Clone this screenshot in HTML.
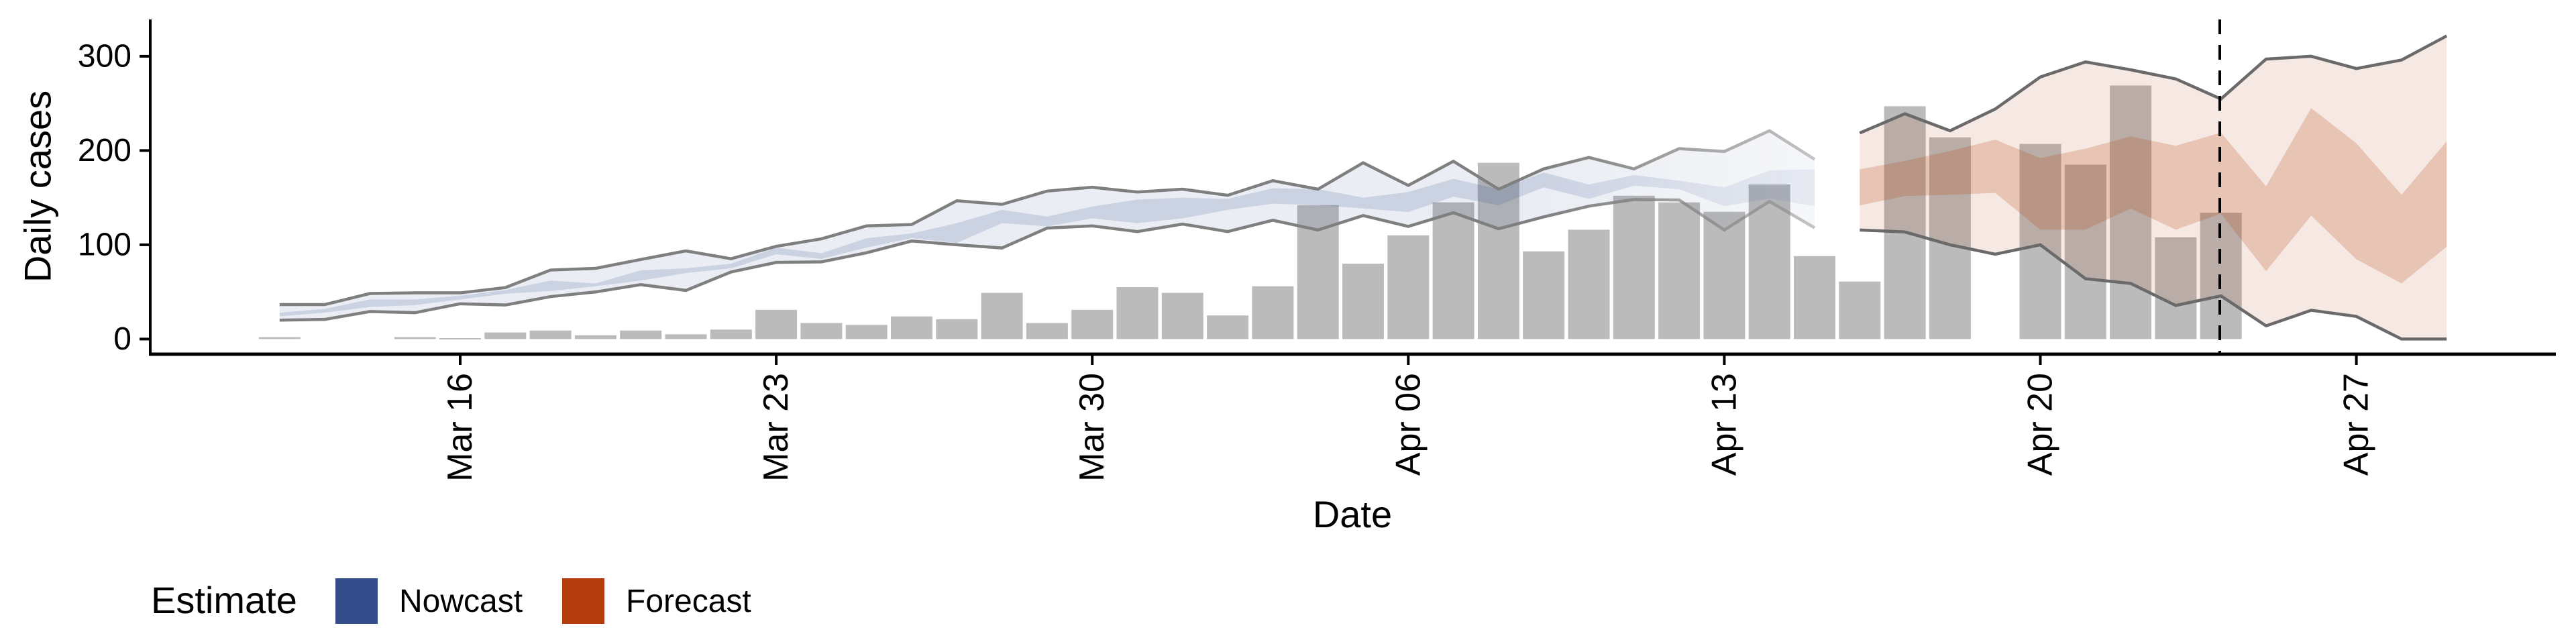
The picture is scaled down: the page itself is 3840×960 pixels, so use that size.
<!DOCTYPE html>
<html><head><meta charset="utf-8"><style>
html,body{margin:0;padding:0;background:#fff;width:3840px;height:960px;overflow:hidden}
svg{display:block;font-family:"Liberation Sans",sans-serif}
</style></head><body>
<svg id="chart" width="3840" height="960" viewBox="0 0 3840 960">
<defs>
<linearGradient id="fadeGrad" gradientUnits="userSpaceOnUse" x1="2300" y1="0" x2="2710" y2="0">
<stop offset="0" stop-color="#fff"/><stop offset="1" stop-color="#777"/></linearGradient>
<mask id="fadeMask" maskUnits="userSpaceOnUse" x="0" y="0" width="3840" height="960"><rect x="0" y="0" width="3840" height="960" fill="url(#fadeGrad)"/></mask>
</defs>
<g id="bars"></g>
<g id="nowcast" mask="url(#fadeMask)"></g>
<g id="forecast"></g>
<g id="axes"></g>
<line x1="3309" y1="29" x2="3309" y2="528" stroke="#000" stroke-width="4" stroke-dasharray="22,16"/>
<text x="56" y="278" font-size="56" text-anchor="middle" transform="rotate(-90 56 278)" dominant-baseline="central">Daily cases</text>
<text x="2016" y="786" font-size="56" text-anchor="middle">Date</text>
<g>
<text x="225" y="914" font-size="56">Estimate</text>
<rect x="500" y="862" width="63" height="68" fill="#344c89"/>
<text x="595" y="912" font-size="48">Nowcast</text>
<rect x="838" y="862" width="63" height="68" fill="#b33c0c"/>
<text x="933" y="912" font-size="48">Forecast</text>
</g>
</svg>
<script>
const barValues=[2,null,null,2,1,7,9,4,9,5,10,31,17,15,24,21,49,17,31,55,49,25,56,142,80,110,145,187,93,116,152,145,135,164,88,61,247,214,null,207,185,269,108,134];
const nowUpper=[36.6,36.6,48.3,49,49,54.6,73.2,75,84.4,93.5,85.2,98.4,106.3,120,121.5,146.7,142.9,157,161,156,159,152.5,168,159,187,163,188.6,159,180.5,192.7,180.5,202,199,221,190.7];
const nowLower=[20,20.8,29.2,28,37.4,36.1,45,50,57.7,51.6,71.2,81.3,81.9,91.5,104,100,96.6,117.7,120,114,122,114,126,115.7,131,119.5,134,117,129.6,141,148,147.5,115.7,146,118];
const nowInnerUp=[28,32,42,42,46,52,62,59,73,75,80,97,91,107,112,123,137,130,140.6,148,150,148.7,160,159,150,156,170,159,176.7,164,174,168,161,179,180];
const nowInnerLo=[24,28,34,36,42,48,51,56,62,70,75,90,85,97,107,102,123,119.5,128,123,128,137,143.6,142,138.5,134.7,151,142,161,148.7,162.7,159,141,149,141];
const foreStart=35;
const foreUpper=[218.6,239,221,244,278,294,285.7,276,254.7,297,300,287,296,321.6];
const foreLower=[115.7,113.6,100,90,100,64,59,35.6,45.8,14,30.5,24,0,0];
const foreInnerUp=[180,189,199.5,211.5,192,202,215,205,219,162,245,207.7,153,209.7];
const foreInnerLo=[141.8,151.7,153,155,116,116,138.5,116,133,72,131,84.6,59,98];
const yTicks=[0,100,200,300];
const xTickDays=[4,11,18,25,32,39,46];
const xTickLabels=["Mar 16","Mar 23","Mar 30","Apr 06","Apr 13","Apr 20","Apr 27"];

const NS="http://www.w3.org/2000/svg";
const x=d=>686+(d-4)*67.3;
const y=v=>505.4-v*1.405;
function mk(tag,parent,attrs){const e=document.createElementNS(NS,tag);for(const k in attrs)e.setAttribute(k,attrs[k]);parent.appendChild(e);return e;}
const bars=document.getElementById('bars');
barValues.forEach((v,d)=>{if(v==null)return;
 const r=mk('rect',bars,{x:x(d)-31,y:y(v),width:62,height:Math.max(y(0)-y(v),2),fill:'#bbbbbb'});
 
 });
function band(parent,up,lo,off,fill,op,name){
 let p=up.map((v,i)=>x(i+off)+','+y(v));
 let q=lo.map((v,i)=>x(i+off)+','+y(v)).reverse();
 const e=mk('polygon',parent,{points:p.concat(q).join(' '),fill:fill,'fill-opacity':op});
 
 }
function line(parent,arr,off,col,name){
 const e=mk('polyline',parent,{points:arr.map((v,i)=>x(i+off)+','+y(v)).join(' '),fill:'none',stroke:col,'stroke-width':4.5,'stroke-linejoin':'miter'});
 
 }
const nc=document.getElementById('nowcast');
band(nc,nowUpper,nowLower,0,'#324b8c',0.1,'nowcast-outer-band');
band(nc,nowInnerUp,nowInnerLo,0,'#324b8c',0.17,'nowcast-inner-band');
line(nc,nowUpper,0,'#7f7f7f','nowcast-upper-line');
line(nc,nowLower,0,'#7f7f7f','nowcast-lower-line');
const fc=document.getElementById('forecast');
band(fc,foreUpper,foreLower,foreStart,'#b2440f',0.12,'forecast-outer-band');
band(fc,foreInnerUp,foreInnerLo,foreStart,'#b2440f',0.22,'forecast-inner-band');
line(fc,foreUpper,foreStart,'#6a6a6a','forecast-upper-line');
line(fc,foreLower,foreStart,'#6a6a6a','forecast-lower-line');
const ax=document.getElementById('axes');
let e=mk('line',ax,{x1:224,y1:29,x2:224,y2:530,stroke:'#000','stroke-width':4});


e=mk('line',ax,{x1:222,y1:528,x2:3810,y2:528,stroke:'#000','stroke-width':5});


yTicks.forEach(v=>{
 const t=mk('line',ax,{x1:208,y1:y(v),x2:224,y2:y(v),stroke:'#000','stroke-width':4});
 
 
 const l=mk('text',ax,{x:196,y:y(v),'font-size':48,'text-anchor':'end','dominant-baseline':'central'});
 l.textContent=v;
 
 });
xTickDays.forEach((d,i)=>{
 const t=mk('line',ax,{x1:x(d),y1:528,x2:x(d),y2:544,stroke:'#000','stroke-width':4});
 
 
 const l=mk('text',ax,{x:x(d),y:556,'font-size':52,'text-anchor':'end','dominant-baseline':'central',transform:`rotate(-90 ${x(d)} 556)`});
 l.textContent=xTickLabels[i];
 
 });
</script>
</body></html>
